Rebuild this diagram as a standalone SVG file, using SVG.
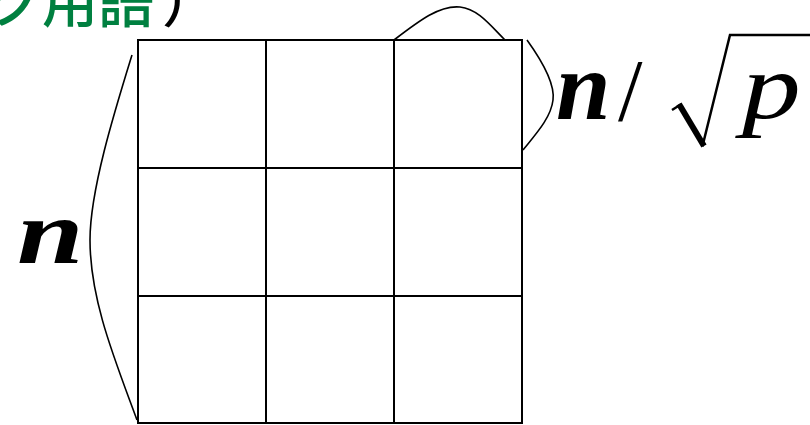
<svg xmlns="http://www.w3.org/2000/svg" width="810" height="425" viewBox="0 0 810 425">
<style>
.grid{fill:none;stroke:#000;stroke-width:2}
.brace{fill:none;stroke:#000;stroke-width:1.6}
.m{font-family:"Liberation Serif","DejaVu Serif",serif;font-style:italic;font-weight:bold;fill:#000}
.jp{font-family:"Noto Sans CJK JP","Noto Sans CJK SC",sans-serif;font-size:56px;font-weight:500}
</style>
<rect width="810" height="425" fill="#fff"/>
<text class="jp" x="-14" y="22" fill="#008040">ク用語<tspan fill="#000" dx="8">）</tspan></text>
<g id="grid">
<rect class="grid" x="138" y="40" width="384" height="383"/>
<line class="grid" x1="266" y1="40" x2="266" y2="423"/>
<line class="grid" x1="394" y1="40" x2="394" y2="423"/>
<line class="grid" x1="138" y1="168" x2="522" y2="168"/>
<line class="grid" x1="138" y1="296" x2="522" y2="296"/>
</g>
<g id="braces">
<path class="brace" d="M394,40 C420,20 440,5 460,7 C478,9 490,25 505,40"/>
<path class="brace" d="M527,40 C545,65 555,85 553,100 C551,118 535,135 523,150"/>
<path class="brace" d="M132,55 C115,110 90,190 90,240 C90,300 115,360 137,420"/>
</g>
<g id="label-n">
<text class="m" font-size="90" transform="translate(17,263) scale(1.33,1)">n</text>
</g>
<g id="label-block">
<text class="m" font-size="98" x="556" y="119">n</text>
<text x="618" y="120" font-family="Liberation Serif,serif" font-size="88" fill="#000">/</text>
<path d="M672,110 L680,105 L703,144 L730,35 L810,35" fill="none" stroke="#000" stroke-width="2.5" stroke-linejoin="miter"/>
<path d="M679,104 L704,146" fill="none" stroke="#000" stroke-width="6"/>
<text font-family="Liberation Serif,serif" font-style="italic" font-size="94" fill="#000" transform="translate(742,118) scale(1.25,1)">p</text>
</g>
</svg>
